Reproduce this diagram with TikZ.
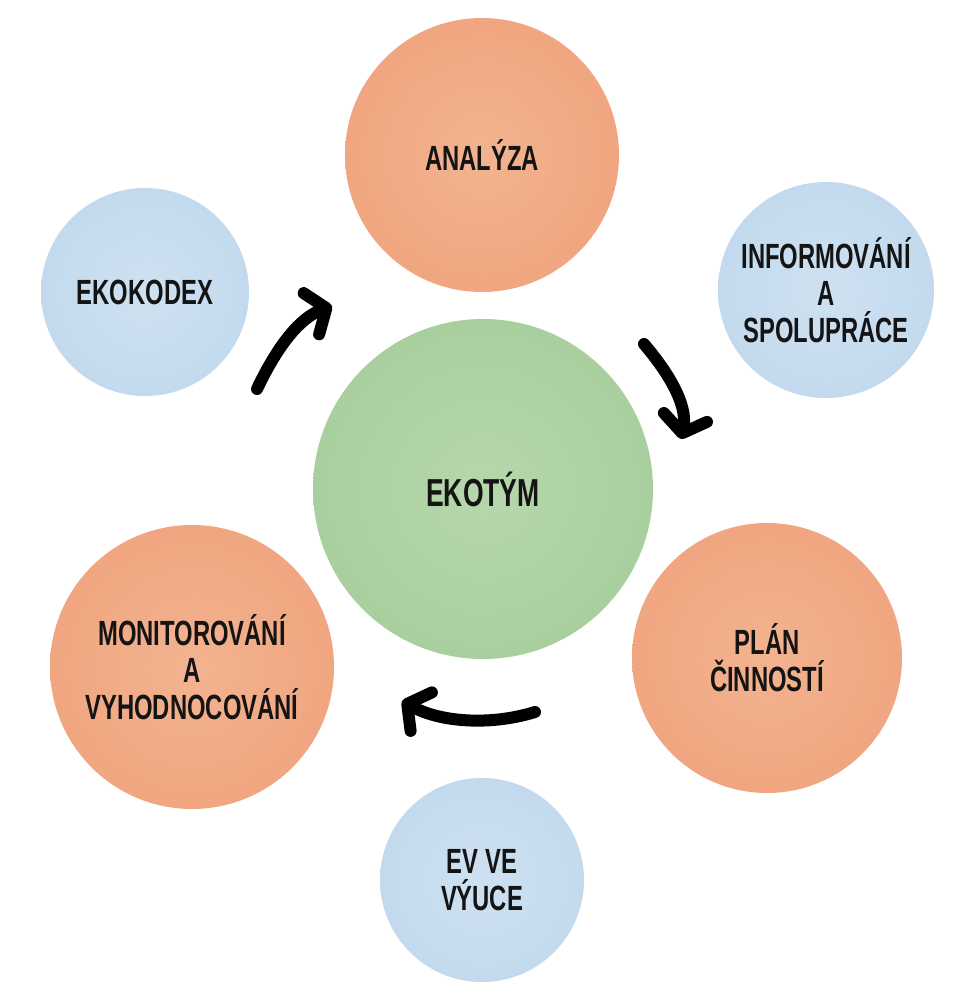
\documentclass[tikz,border=0pt]{standalone}
\usepackage{fontspec}
\setmainfont{Liberation Sans}[FakeStretch=0.68]
\usetikzlibrary{arrows.meta}
\definecolor{orangec}{HTML}{F0A680}
\definecolor{orangei}{HTML}{F3B390}
\definecolor{bluec}{HTML}{C3DAEE}
\definecolor{bluei}{HTML}{CEE1F1}
\definecolor{greenc}{HTML}{A9CF9E}
\definecolor{greeni}{HTML}{B6D7AC}
\tikzset{
  blob/.style={circle, inner sep=0pt, align=center, text=black!92,
    font=\bfseries\fontsize{35}{37}\selectfont},
  orangeblob/.style={blob, inner color=orangei, outer color=orangec},
  blueblob/.style={blob, inner color=bluei, outer color=bluec},
  greenblob/.style={blob, inner color=greeni, outer color=greenc},
  cyclearrow/.style={line width=12pt, line cap=round, line join=round,
    -{Straight Barb[length=16pt, width=44pt, line cap=round, line join=round]}}
}
\begin{document}
\begin{tikzpicture}[x=1pt, y=-1pt]
\useasboundingbox (0,0) rectangle (958,990);
\fill[white] (0,0) rectangle (958,990);
\node[orangeblob, minimum size=274pt] (ana) at (482,155) {ANALÝZA};
\node[blueblob, minimum size=208pt] (eko) at (145,292) {EKOKODEX};
\node[blueblob, minimum size=216pt] (inf) at (826,290) {INFORMOVÁNÍ\\A\\SPOLUPRÁCE};
\node[greenblob, minimum size=340pt, font=\bfseries\fontsize{39}{41}\selectfont] (tym) at (483,489) {EKOTÝM};
\node[orangeblob, minimum size=270pt] (plan) at (767,658) {PLÁN\\ČINNOSTÍ};
\node[orangeblob, minimum size=284pt] (mon) at (192,667) {MONITOROVÁNÍ\\A\\VYHODNOCOVÁNÍ};
\node[blueblob, minimum size=204pt] (ev) at (482,880) {EV VE\\VÝUCE};
\coordinate (a1s) at (257,389);
\coordinate (a1e) at (332,306);
\coordinate (a2s) at (644,344);
\coordinate (a2e) at (681,439);
\coordinate (a3s) at (535,712);
\coordinate (a3e) at (402,701);
\draw[cyclearrow] (a1s) .. controls (278,345) and (300,318) .. (a1e);
\draw[cyclearrow] (a2s) .. controls (668,372) and (688,405) .. (a2e);
\draw[cyclearrow] (a3s) .. controls (490,726) and (440,722) .. (a3e);
\end{tikzpicture}
\end{document}
